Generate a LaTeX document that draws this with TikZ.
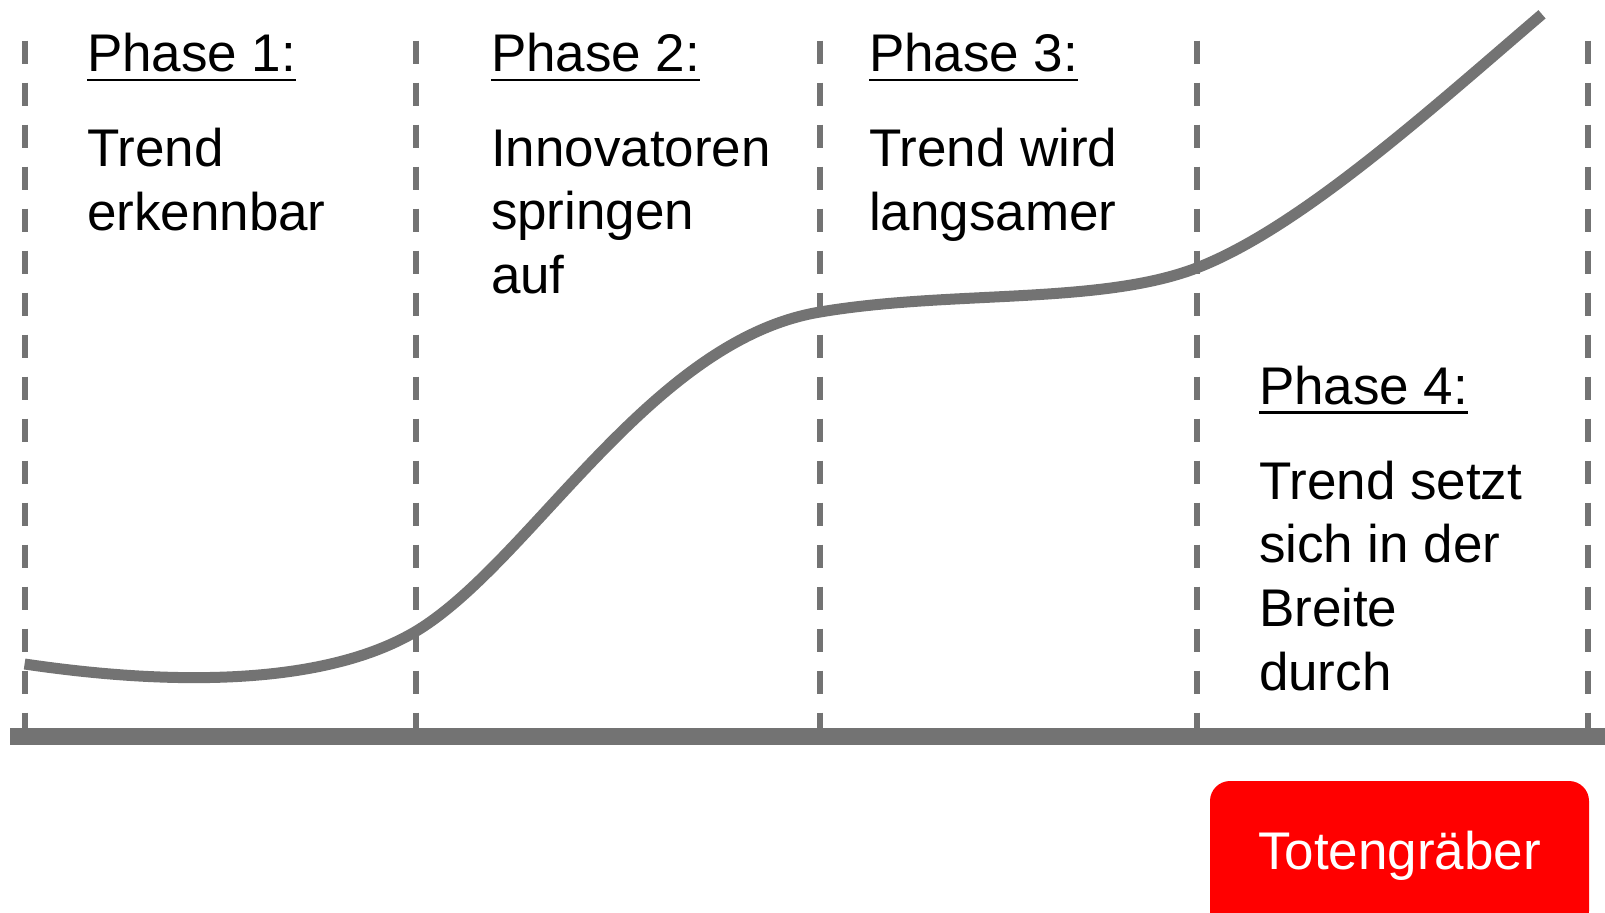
\documentclass[tikz,border=0pt]{standalone}
\usepackage{fontspec}
\setmainfont{Liberation Sans}
\usetikzlibrary{positioning}
\usepackage{xcolor}
\definecolor{kurvengrau}{RGB}{115,115,115}
\definecolor{grabrot}{RGB}{255,0,0}
% underline drawn as a thick rule below the text
\newcommand{\phaseline}[1]{\setbox0\hbox{#1}\rlap{\copy0}\rule[-4.8pt]{\wd0}{1.3pt}}

\begin{document}
\begin{tikzpicture}
[x=0.5pt, y=-0.5pt,
every node/.style={inner sep=0pt, outer sep=0pt},
% The phase style is used for the headings of the phases
phase/.style={anchor=base west, font=\fontsize{26.5}{31.8}\selectfont},
% The desc style is used to describe each phase (placed at the baseline of its last line)
desc/.style={anchor=base west, align=left, font=\fontsize{26.5}{31.8}\selectfont},
% separators between the phases
trenner/.style={draw=kurvengrau, line width=3pt, dash pattern=on 11.5pt off 9.5pt},
achse/.style={draw=kurvengrau, line width=8.5pt},
kurve/.style={draw=kurvengrau, line width=5.5pt},
grab/.style={rectangle, fill=grabrot, rounded corners=10pt, text=white, minimum width=189.5pt, minimum height=75pt, font=\fontsize{26.5}{31.8}\selectfont}
]
\useasboundingbox (0,0) rectangle (1605,912);
% Draw separators and axis
\foreach \x in {24.6,415.6,820,1196.6,1587.6}
  \draw[trenner] (\x,40.7) -- (\x,728);
\draw[achse] (10,736.5) -- (1605,736.5);
% Draw trend curve
\draw[kurve] (24.6,664) .. controls (100,675) and (300,700) .. (415.6,631.5)
  .. controls (530,563) and (650,340) .. (820,312)
  .. controls (950,290) and (1100,305) .. (1196.6,268)
  .. controls (1300,228) and (1430,110) .. (1542,14.3);
% Draw phases
\node [phase] (p1) at (87,71.7) {\phaseline{Phase 1:}};
\node [desc] (d1) at (87,230) {Trend\\erkennbar};
\node [phase] (p2) at (491,71.7) {\phaseline{Phase 2:}};
\node [desc] (d2) at (491,293.5) {Innovatoren\\springen\\auf};
\node [phase] (p3) at (869,71.7) {\phaseline{Phase 3:}};
\node [desc] (d3) at (869,230) {Trend wird\\langsamer};
\node [phase] (p4) at (1259,404) {\phaseline{Phase 4:}};
\node [desc] (d4) at (1259,690) {Trend setzt\\sich in der\\Breite\\durch};
\node [grab] (grab) at (1399.5,856) {Totengräber};
\end{tikzpicture}
\end{document}
